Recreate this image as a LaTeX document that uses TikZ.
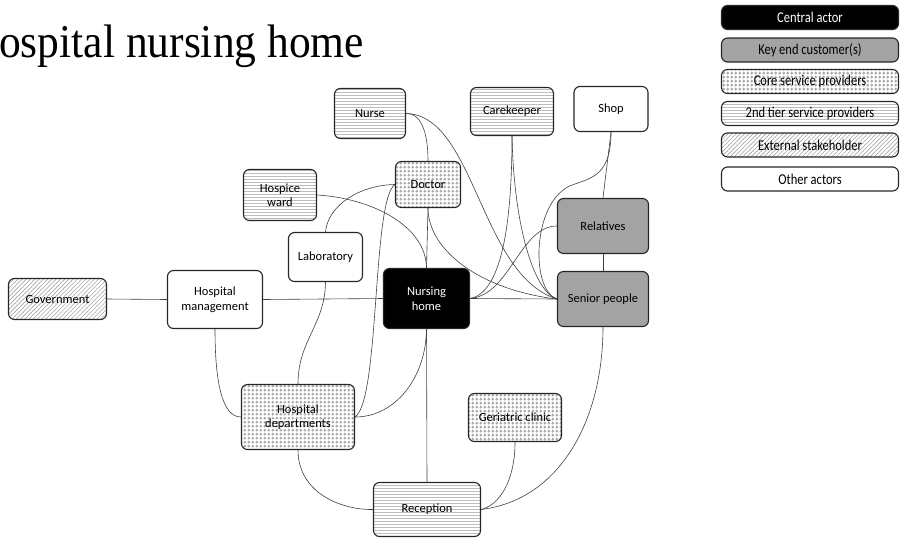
\documentclass[tikz,border=0pt]{standalone}
\usepackage{fontspec}
\usepackage{graphicx}
\newfontfamily\carlito{Carlito}
\newfontfamily\timesf{Liberation Serif}
\usetikzlibrary{patterns.meta}

% fill patterns for the actor categories
\tikzdeclarepattern{
  name=hstripes, type=uncolored,
  bottom left={(-0.1pt,-0.5pt)}, top right={(3.1pt,0.5pt)},
  tile size={(3pt,3pt)},
  code={\draw[line width=0.55pt] (-0.1pt,0) -- (3.1pt,0);}
}
\tikzdeclarepattern{
  name=dstripes, type=uncolored,
  bottom left={(-0.1pt,-0.5pt)}, top right={(3.1pt,0.5pt)},
  tile size={(3pt,3pt)},
  tile transformation={rotate=45},
  code={\draw[line width=0.6pt] (-0.1pt,0) -- (3.1pt,0);}
}
\tikzdeclarepattern{
  name=pdots, type=uncolored,
  bottom left={(0pt,0pt)}, top right={(3.8pt,3.8pt)},
  tile size={(3.8pt,3.8pt)},
  code={\fill (1.9pt,1.9pt) circle (1.55pt);}
}

\tikzset{
  actor/.style={draw=black!85, line width=1.1pt, rounded corners=6pt,
    align=center, inner sep=2pt,
    font=\carlito\fontsize{12.5}{14.5}\selectfont},
  central/.style={actor, fill=black, text=white},
  keycust/.style={actor, fill=black!36},
  core/.style={actor, preaction={fill=white}, pattern={pdots}, pattern color=black!34},
  tier/.style={actor, preaction={fill=white}, pattern={hstripes}, pattern color=black!26},
  external/.style={actor, preaction={fill=white}, pattern={dstripes}, pattern color=black!34},
  other/.style={actor, fill=white},
  sz/.style 2 args={minimum width=#1pt, minimum height=#2pt},
  legendbox/.style={rounded corners=4pt, line width=1pt, minimum width=177pt, minimum height=24pt},
  link/.style={draw=black!75, line width=0.6pt},
}

\begin{document}
\begin{tikzpicture}[x=1pt, y=-1pt]
\useasboundingbox (0,0) rectangle (902,539);

% title
\node[anchor=base west, inner sep=0pt, font=\timesf\fontsize{43.5}{43.5}\selectfont]
  (title) at (-1,57) {\scalebox{1}[1.08]{ospital nursing home}};

% actors
\node[tier, sz={71}{50}]      (nurse) at (370,113.5) {Nurse};
\node[tier, sz={83}{48}]      (care)  at (512,111.5) {Carekeeper};
\node[other, sz={74}{45}]     (shop)  at (611,109)   {Shop};
\node[tier, sz={73}{51}]      (hw)    at (280,195)   {Hospice\\ward};
\node[core, sz={65}{46}]      (doc)   at (428,184.5) {Doctor};
\node[other, sz={74}{49}]     (lab)   at (325.5,257) {Laboratory};
\node[keycust, sz={91}{55}]   (rel)   at (603,226)   {Relatives};
\node[central, sz={86}{60}]   (nh)    at (426.5,298.5) {Nursing\\home};
\node[keycust, sz={91}{55}]   (sp)    at (603,299)   {Senior people};
\node[external, sz={98}{41}]  (gov)   at (57.5,299)  {Government};
\node[other, sz={95}{58}]     (hm)    at (215,299.5) {Hospital\\management};
\node[core, sz={113}{65}]     (hd)    at (298,417)   {Hospital\\departments};
\node[core, sz={93}{48}]      (ger)   at (515,417.5) {Geriatric clinic};
\node[tier, sz={107}{54}]     (rec)   at (427,509.5) {Reception};

% legend
\begin{scope}[every node/.append style={legendbox}]
\node[central]  (lg1) at (810,17.5)  {\scalebox{1}[1.2]{Central actor}};
\node[keycust]  (lg2) at (810,50)    {\scalebox{1}[1.2]{Key end customer(s)}};
\node[core]     (lg3) at (810,81.5)  {\scalebox{1}[1.2]{Core service providers}};
\node[tier]     (lg4) at (810,113.5) {\scalebox{1}[1.2]{2nd tier service providers}};
\node[external] (lg5) at (810,145)   {\scalebox{1}[1.2]{External stakeholder}};
\node[other]    (lg6) at (810,179)   {\scalebox{1}[1.2]{Other actors}};
\end{scope}

% relations
\draw[link] (gov.east) -- (hm.west);
\draw[link] (hm.east) -- (nh.west);
\draw[link] (hm.south) .. controls (215,382) and (222,417) .. (hd.west);
\draw[link] (lab.south) .. controls (325,325) and (298,340) .. (hd.north);
\draw[link] (lab.north) .. controls (328,205) and (360,185) .. (doc.west);
\draw[link] (doc.west) .. controls (372,200) and (380,400) .. (hd.east);
\draw[link] (nh.south) .. controls (426,378) and (395,417) .. (hd.east);
\draw[link] (hw.east) .. controls (370,198) and (426,225) .. (nh.north);
\draw[link] (doc.south) -- (nh.north);
\draw[link] (doc.south) .. controls (428,250) and (480,290) .. (sp.west);
\draw[link] (nurse.east) .. controls (420,113) and (428,130) .. (doc.north);
\draw[link] (nurse.east) .. controls (475,115) and (480,275) .. (sp.west);
\draw[link] (care.south) .. controls (512,230) and (500,293) .. (nh.east);
\draw[link] (care.south) .. controls (514,230) and (535,292) .. (sp.west);
\draw[link] (shop.south) -- (rel.north);
\coordinate (shopbend) at (572,185);
\draw[link] (shop.south) .. controls (611,175) and (592,178) .. (shopbend)
            .. controls (532,200) and (530,290) .. (sp.west);
\draw[link] (rel.south) -- (sp.north);
\draw[link] (rel.west) .. controls (520,226) and (510,295) .. (nh.east);
\draw[link] (nh.east) -- (sp.west);
\draw[link] (sp.south) .. controls (603,420) and (560,500) .. (rec.east);
\draw[link] (ger.south) .. controls (515,480) and (500,505) .. (rec.east);
\draw[link] (hd.south) .. controls (298,492) and (340,510) .. (rec.west);
\draw[link] (nh.south) -- (rec.north);
\end{tikzpicture}
\end{document}
